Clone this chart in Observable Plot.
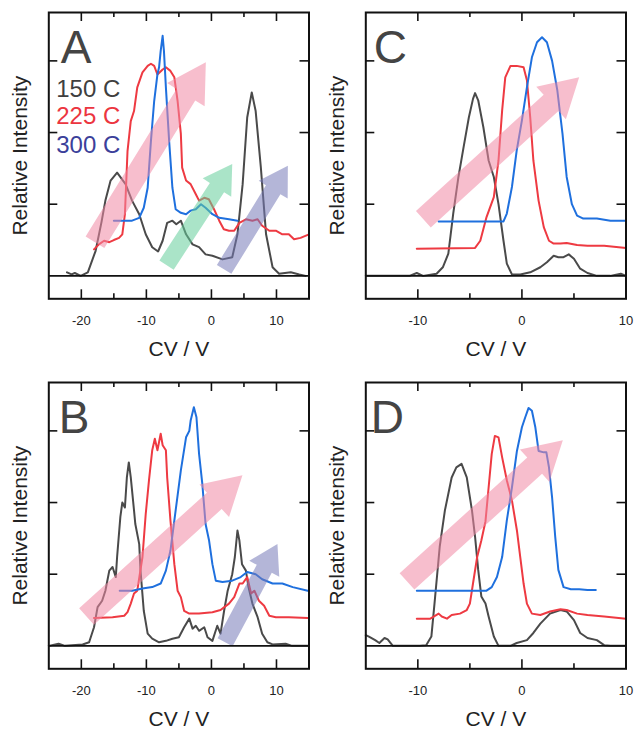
<!DOCTYPE html>
<html><head><meta charset="utf-8">
<script src="https://cdn.jsdelivr.net/npm/d3@7"></script>
<script src="https://cdn.jsdelivr.net/npm/@observablehq/plot@0.6"></script>
<style>
body{margin:0;background:#fff;}
#root{position:relative;width:634px;height:730px;overflow:hidden;font-family:"Liberation Sans",Arial,sans-serif;}
.panel{position:absolute;}
</style></head><body><div id="root"></div>
<script>
// ---------- categories / labels ----------
const temps = ["150 C", "225 C", "300 C"];
const panelLetters = ["A", "B", "C", "D"];
const xLabel = "CV / V";
const yLabel = "Relative Intensity";
const ticksLeftMajor = [-20, -10, 0, 10];
const ticksLeftMinor = [-15, -5, 5];
const ticksRightMajor = [-10, 0, 10];
const ticksRightMinor = [-5, 5];
const yTicks = [1, 2, 3];

// ---------- series values: [CV (V), relative intensity] ----------
const A150 = [[-22.2,0.05],[-21.5,0.02],[-21,0.04],[-20.1,0],[-19,0.05],[-17.8,0.35],[-16.9,0.75],[-16.3,1.05],[-15.5,1.33],[-14.5,1.44],[-13.2,1.28],[-12.2,1.05],[-11.1,0.86],[-10.1,0.58],[-9.1,0.40],[-8.2,0.34],[-7.5,0.49],[-6.8,0.74],[-6.0,0.77],[-5.4,0.72],[-4.7,0.77],[-3.9,0.58],[-2.9,0.44],[-1.9,0.40],[-0.9,0.30],[0.15,0.28],[1.7,0.23],[3.2,0.26],[4.0,0.58],[4.8,1.28],[5.5,2.21],[6.2,2.56],[6.8,2.30],[7.6,1.51],[8.4,0.58],[9.4,0.12],[10.4,0.03],[12.2,0.05],[13.5,0.02],[14.5,0]];
const A225 = [[-18.05,0.37],[-17.3,0.44],[-16.5,0.49],[-15.7,0.47],[-15.0,0.50],[-14.2,0.53],[-13.7,0.58],[-13.3,0.86],[-12.9,1.74],[-12.4,2.16],[-11.9,2.30],[-11.4,2.63],[-10.6,2.84],[-9.8,2.93],[-9.3,2.96],[-8.8,2.93],[-8.3,2.81],[-7.5,2.88],[-7.0,2.91],[-6.3,2.86],[-5.7,2.77],[-5.2,2.44],[-4.7,1.98],[-4.5,1.51],[-3.9,1.33],[-3.2,1.28],[-2.4,1.14],[-1.9,1.05],[-1.1,1.09],[-0.4,1.07],[0.4,0.93],[1.2,0.77],[1.9,0.65],[2.7,0.63],[3.5,0.63],[4.3,0.74],[5.3,0.79],[6.3,0.77],[7.1,0.79],[7.8,0.70],[8.9,0.63],[9.9,0.63],[10.9,0.58],[11.9,0.58],[12.7,0.51],[13.7,0.53],[15.0,0.58]];
const A300 = [[-15.0,0.77],[-12.2,0.77],[-11.1,0.81],[-10.4,0.95],[-9.8,1.23],[-9.3,1.88],[-8.8,2.44],[-8.3,2.81],[-8.05,2.91],[-7.8,3.14],[-7.5,3.35],[-7.3,3.14],[-7.0,2.63],[-6.5,1.88],[-6.0,1.23],[-5.5,0.93],[-4.7,0.88],[-3.9,0.86],[-3.2,0.91],[-2.4,0.93],[-1.6,1.00],[-0.9,0.95],[0.15,0.86],[1.2,0.81],[2.7,0.79],[4.0,0.77]];

const B150 = [[-25,0],[-23.5,0.03],[-22.5,0],[-19.8,0.02],[-18.8,0.05],[-18.05,0.26],[-17.5,0.54],[-16.8,0.63],[-16.3,0.77],[-15.7,1.05],[-15.2,1.10],[-14.7,0.96],[-14.5,1.24],[-14.0,1.80],[-13.7,2.0],[-13.3,1.93],[-13.0,2.35],[-12.7,2.56],[-12.4,2.35],[-11.9,1.89],[-11.7,1.70],[-11.1,1.42],[-10.9,1.05],[-10.4,0.49],[-9.8,0.17],[-9.1,0.10],[-8.05,0.05],[-7.0,0.07],[-6.0,0.10],[-5.0,0.12],[-4.2,0.26],[-3.4,0.38],[-2.9,0.24],[-2.4,0.28],[-1.9,0.21],[-1.1,0.26],[-0.6,0.12],[0.15,0.07],[0.9,0.28],[1.4,0.17],[1.95,0.49],[2.5,0.77],[3.2,1.0],[3.6,1.24],[4.0,1.61],[4.3,1.47],[4.7,1.14],[5.3,1.05],[5.7,0.82],[6.3,0.59],[7.1,0.40],[7.8,0.17],[8.6,0.05],[9.4,0.02],[11.4,0.03],[12.4,0],[14.8,0]];
const B225 = [[-18.05,0.39],[-15.2,0.40],[-13.4,0.42],[-12.9,0.47],[-12.4,0.59],[-11.9,0.73],[-11.4,0.77],[-10.6,1.24],[-10.1,1.84],[-9.6,2.31],[-9.1,2.73],[-8.7,2.89],[-8.3,2.73],[-7.8,2.96],[-7.5,2.80],[-7.0,2.73],[-6.8,2.35],[-6.3,1.75],[-5.7,1.14],[-5.2,0.77],[-4.7,0.68],[-4.2,0.49],[-3.4,0.45],[-1.9,0.45],[0.15,0.47],[1.4,0.50],[2.7,0.59],[3.5,0.68],[4.3,0.87],[4.8,0.87],[5.5,0.96],[6.1,0.73],[6.6,0.77],[7.3,0.63],[8.1,0.56],[8.9,0.42],[9.9,0.40],[11.9,0.40],[14.8,0.39]];
const B300 = [[-14.1,0.77],[-12.2,0.77],[-10.6,0.80],[-9.1,0.82],[-7.8,0.87],[-7.0,1.05],[-6.3,1.33],[-5.5,1.89],[-4.7,2.45],[-3.9,2.91],[-3.4,3.0],[-3.2,3.14],[-2.7,3.33],[-2.3,3.19],[-1.9,2.68],[-1.4,2.26],[-0.9,1.70],[-0.36,1.47],[0.15,1.14],[0.67,0.91],[1.7,0.89],[3.2,0.91],[4.5,0.96],[5.5,1.03],[6.8,1.0],[7.8,0.93],[9.4,0.87],[10.9,0.87],[12.5,0.82],[14.8,0.77]];

const C150 = [[-15,0],[-10.8,0],[-10.1,0.04],[-9.5,0],[-8.2,0.03],[-7.6,0.12],[-7.07,0.31],[-6.6,0.87],[-6.1,1.38],[-5.6,1.80],[-5.1,2.21],[-4.7,2.47],[-4.5,2.55],[-4.2,2.45],[-3.7,2.07],[-3.2,1.61],[-2.7,1.38],[-2.25,1.00],[-1.77,0.49],[-1.45,0.17],[-0.96,0.02],[-0.16,0.02],[0.8,0.05],[1.77,0.12],[2.4,0.19],[3.05,0.28],[3.5,0.26],[4.0,0.26],[4.5,0.30],[5.0,0.24],[5.6,0.10],[6.3,0.04],[7.2,0],[8.5,0],[9.5,0.03],[10,0]];
const C225 = [[-10.1,0.38],[-4.5,0.39],[-4.0,0.49],[-3.4,0.82],[-2.7,1.10],[-2.25,1.61],[-1.9,2.31],[-1.6,2.77],[-1.1,2.93],[-0.5,2.93],[0.16,2.91],[0.48,2.73],[0.8,2.21],[1.1,1.61],[1.6,1.05],[2.1,0.68],[2.6,0.49],[3.05,0.45],[3.7,0.45],[4.3,0.46],[5.3,0.43],[6.3,0.42],[7.9,0.42],[10,0.39]];
const C300 = [[-8.0,0.76],[-1.77,0.76],[-1.45,0.87],[-0.96,1.24],[-0.5,1.75],[0,2.17],[0.48,2.63],[0.96,3.05],[1.45,3.26],[1.93,3.33],[2.4,3.26],[2.9,3.0],[3.4,2.59],[3.9,1.98],[4.3,1.38],[4.8,1.0],[5.3,0.84],[5.9,0.80],[7.2,0.80],[8.5,0.77],[10,0.77]];

const D150 = [[-15.0,0.15],[-14.7,0.13],[-14.1,0.08],[-13.7,0.04],[-13.2,0.11],[-12.9,0.09],[-12.4,0],[-9.8,0],[-9.2,0.01],[-8.7,0.13],[-8.4,0.59],[-7.9,1.38],[-7.4,1.89],[-6.75,2.35],[-6.3,2.49],[-5.8,2.54],[-5.3,2.35],[-4.8,1.89],[-4.5,1.52],[-4.2,1.06],[-3.9,0.69],[-3.5,0.59],[-3.2,0.41],[-2.7,0.13],[-2.25,0],[-1.1,0],[-0.5,0.04],[0.48,0.08],[1.1,0.18],[1.77,0.31],[2.7,0.45],[3.7,0.50],[4.3,0.48],[5.0,0.36],[5.6,0.18],[6.3,0.11],[7.2,0.08],[7.9,0.01],[8.5,0],[10,0]];
const D225 = [[-10.1,0.38],[-8.8,0.38],[-8.0,0.45],[-7.7,0.41],[-7.2,0.38],[-6.75,0.43],[-5.95,0.45],[-5.3,0.50],[-5.0,0.59],[-4.7,0.87],[-4.3,1.24],[-3.9,1.47],[-3.5,1.74],[-3.2,2.21],[-2.9,2.68],[-2.6,2.93],[-2.25,2.91],[-1.9,2.63],[-1.45,2.31],[-0.96,2.03],[-0.48,1.61],[-0.16,1.24],[0.16,0.87],[0.48,0.59],[0.96,0.45],[1.77,0.43],[2.7,0.48],[3.7,0.51],[4.3,0.50],[5.3,0.45],[6.3,0.43],[7.9,0.41],[10,0.38]];
const D300 = [[-10.1,0.77],[-3.4,0.77],[-2.9,0.82],[-2.4,0.96],[-1.9,1.24],[-1.45,1.75],[-0.96,2.21],[-0.48,2.72],[0,3.05],[0.32,3.19],[0.64,3.32],[0.96,3.28],[1.29,3.05],[1.6,2.72],[2.1,2.70],[2.35,2.70],[2.6,2.49],[2.9,2.07],[3.2,1.52],[3.5,1.06],[4.0,0.82],[4.7,0.79],[5.5,0.79],[6.3,0.78],[7.1,0.78]];

// ---------- trend arrows: tail and tip in data units ----------
const arrowsA = [
  {tail: [-17.9, 0.47], tip: [-0.86, 2.98], color: "pink"},
  {tail: [-6.9, 0.15], tip: [3.2, 1.56], color: "green"},
  {tail: [1.95, 0.09], tip: [11.75, 1.535], color: "lavender"}
];
const arrowsB = [
  {tail: [-19.2, 0.41], tip: [4.77, 2.38], color: "pink"},
  {tail: [2.1, 0.05], tip: [10.15, 1.42], color: "lavender"}
];
const arrowsC = [{tail: [-9.47, 0.79], tip: [5.5, 2.77], color: "pink"}];
const arrowsD = [{tail: [-11.04, 0.90], tip: [3.93, 2.87], color: "pink"}];

// ---------- styles ----------
const lineColors = ["#4a4a4a", "#ee3a42", "#1f70de"];
const legendColors = ["#3f3f3f", "#ec3540", "#3b409a"];
const arrowStyle = {
  pink: {fill: "rgb(240,137,164)", w: 22, hw: 44, hl: 38},
  green: {fill: "rgb(100,206,155)", w: 17, hw: 34, hl: 28},
  lavender: {fill: "rgb(119,122,184)", w: 17, hw: 34, hl: 28}
};

function blockArrow(w, hw, hl) {
  return {
    draw(ctx, l) {
      const s = l - hl;
      ctx.moveTo(-w / 2, 0);
      ctx.lineTo(-w / 2, -s);
      ctx.lineTo(-hw / 2, -s);
      ctx.lineTo(0, -l);
      ctx.lineTo(hw / 2, -s);
      ctx.lineTo(w / 2, -s);
      ctx.lineTo(w / 2, 0);
      ctx.closePath();
    }
  };
}

function panel({letter, left, top, height, xDomain, majors, minors, series, arrows, letterDx, legend}) {
  const W = 317, mL = 48.3, mR = 8.5, mT = 12, frameBottom = 298.3;
  const mB = height - frameBottom;
  const yDomain = [-0.32, 3.675];
  const frameW = W - mL - mR, frameH = frameBottom - mT;
  const kx = frameW / (xDomain[1] - xDomain[0]);
  const ky = frameH / (yDomain[1] - yDomain[0]);
  const ink = "#111";
  const marks = [];
  series.forEach((s, i) => marks.push(Plot.line(s, {x: d => d[0], y: d => d[1], stroke: lineColors[i], strokeWidth: 2, strokeLinejoin: "round"})));
  arrows.forEach(a => {
    const st = arrowStyle[a.color];
    const dxp = (a.tip[0] - a.tail[0]) * kx;
    const dyUp = (a.tip[1] - a.tail[1]) * ky;
    const len = Math.hypot(dxp, dyUp);
    const rot = Math.atan2(dxp, dyUp) * 180 / Math.PI;
    marks.push(Plot.vector([a], {x: d => d.tail[0], y: d => d.tail[1], anchor: "start", length: len, rotate: rot,
      shape: blockArrow(st.w, st.hw, st.hl), fill: st.fill, fillOpacity: 0.55, stroke: "none", strokeWidth: 0}));
  });
  marks.push(Plot.ruleY([0], {stroke: ink, strokeWidth: 1.8}));
  marks.push(Plot.tickX(majors, {x: d => d, insetTop: frameH - 9, stroke: ink, strokeWidth: 1.6}));
  marks.push(Plot.tickX(majors, {x: d => d, insetBottom: frameH - 9, stroke: ink, strokeWidth: 1.6}));
  marks.push(Plot.tickX(minors, {x: d => d, insetTop: frameH - 5, stroke: ink, strokeWidth: 1.6}));
  marks.push(Plot.tickX(minors, {x: d => d, insetBottom: frameH - 5, stroke: ink, strokeWidth: 1.6}));
  marks.push(Plot.tickY(yTicks, {y: d => d, insetRight: frameW - 9, stroke: ink, strokeWidth: 1.6}));
  marks.push(Plot.tickY(yTicks, {y: d => d, insetLeft: frameW - 9, stroke: ink, strokeWidth: 1.6}));
  marks.push(Plot.frame({stroke: ink, strokeWidth: 2}));
  marks.push(Plot.axisX({ticks: majors, tickSize: 0, tickPadding: 17, fontSize: 13, tickFormat: d => String(d), label: null}));
  marks.push(Plot.text([xLabel], {text: d => d, frameAnchor: "bottom", textAnchor: "middle", lineAnchor: "middle", dy: 50, fontSize: 21, fill: "#222"}));
  marks.push(Plot.text([yLabel], {text: d => d, frameAnchor: "left", textAnchor: "middle", lineAnchor: "middle", dx: -28.3, rotate: -90, fontSize: 21, fill: "#222"}));
  marks.push(Plot.text([letter], {text: d => d, frameAnchor: "top-left", textAnchor: "start", lineAnchor: "top", dx: letterDx, dy: 18, fontSize: 46, fill: "#444"}));
  if (legend) {
    const dys = [67.3, 94.6, 123];
    temps.forEach((t, i) => marks.push(Plot.text([t], {text: d => d, frameAnchor: "top-left", textAnchor: "start", lineAnchor: "top", dx: 7.4, dy: dys[i], fontSize: 24, fill: legendColors[i]})));
  }
  const chart = Plot.plot({
    width: W, height,
    marginLeft: mL, marginRight: mR, marginTop: mT, marginBottom: mB,
    x: {domain: xDomain},
    y: {domain: yDomain, axis: null},
    style: {fontFamily: '"Liberation Sans", Arial, sans-serif', color: "#222", background: "white", overflow: "visible"},
    marks
  });
  const div = document.createElement("div");
  div.className = "panel";
  div.style.left = left + "px";
  div.style.top = top + "px";
  div.appendChild(chart);
  document.getElementById("root").appendChild(div);
}

panel({letter: panelLetters[0], left: 0, top: 0, height: 365, xDomain: [-25, 15], majors: ticksLeftMajor, minors: ticksLeftMinor, series: [A150, A225, A300], arrows: arrowsA, letterDx: 12, legend: true});
panel({letter: panelLetters[1], left: 0, top: 370, height: 360, xDomain: [-25, 15], majors: ticksLeftMajor, minors: ticksLeftMinor, series: [B150, B225, B300], arrows: arrowsB, letterDx: 10});
panel({letter: panelLetters[2], left: 317, top: 0, height: 365, xDomain: [-15, 10], majors: ticksRightMajor, minors: ticksRightMinor, series: [C150, C225, C300], arrows: arrowsC, letterDx: 8});
panel({letter: panelLetters[3], left: 317, top: 370, height: 360, xDomain: [-15, 10], majors: ticksRightMajor, minors: ticksRightMinor, series: [D150, D225, D300], arrows: arrowsD, letterDx: 5});
</script></body></html>
